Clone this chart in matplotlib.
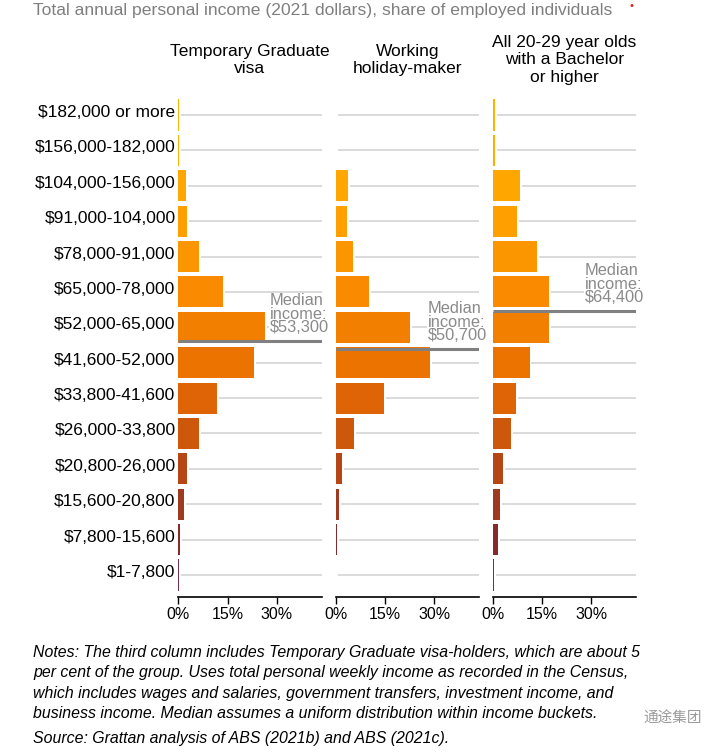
import matplotlib
matplotlib.use("Agg")
import matplotlib.pyplot as plt
import matplotlib.transforms as mtransforms

plt.rcParams['font.family'] = ['Liberation Sans', 'DejaVu Sans']

# Income buckets, top to bottom as in the chart
buckets = ['$182,000 or more', '$156,000-182,000', '$104,000-156,000', '$91,000-104,000',
           '$78,000-91,000', '$65,000-78,000', '$52,000-65,000', '$41,600-52,000',
           '$33,800-41,600', '$26,000-33,800', '$20,800-26,000', '$15,600-20,800',
           '$7,800-15,600', '$1-7,800']

panel_titles = ['Temporary Graduate\nvisa', 'Working\nholiday-maker',
                'All 20-29 year olds\nwith a Bachelor\nor higher']

# share of employed individuals (%), same order as buckets
temp_grad = [0.2, 0.3, 2.2, 2.6, 6.4, 13.6, 26.3, 22.9, 11.8, 6.2, 2.7, 1.6, 0.6, 0.3]
whm = [0.2, 0.2, 3.7, 3.4, 5.2, 10.1, 22.5, 28.6, 14.6, 5.7, 1.9, 0.9, 0.3, 0.0]
bachelor = [0.7, 0.8, 8.4, 7.3, 13.5, 17.1, 17.2, 11.2, 7.1, 5.7, 3.1, 2.3, 1.6, 0.5]

# median income for each group and the bucket bounds it falls in
medians = [53300, 50700, 64400]
median_labels = ['$53,300', '$50,700', '$64,400']
bucket_bounds = [(182000, None), (156000, 182000), (104000, 156000), (91000, 104000),
                 (78000, 91000), (65000, 78000), (52000, 65000), (41600, 52000),
                 (33800, 41600), (26000, 33800), (20800, 26000), (15600, 20800),
                 (7800, 15600), (1, 7800)]

row_colors = ['#FFB300', '#FFAE00', '#FFA600', '#FF9F00', '#FC9600', '#FA8B00', '#F37F00',
              '#EC7300', '#DE6405', '#CD570A', '#B64614', '#9E3A1F', '#862A2A', '#7A2C4C']

series = [temp_grad, whm, bachelor]


def median_ypos(m):
    # rows counted from bottom (0 = $1-7,800), uniform within bucket
    n = len(buckets)
    for i, (lo, hi) in enumerate(bucket_bounds):
        if hi is not None and lo <= m < hi:
            y = n - 1 - i
            return y - 0.5 + (m - lo) / (hi - lo)
    return None


fig = plt.figure(figsize=(7.24, 7.53), dpi=100)

lefts = [0.2463, 0.4637, 0.6805]
width = 0.198
bottom = 0.2072
height = 0.6636
xmax = 43.6
gap = 0.6
n = len(buckets)
ypos = [n - 1 - i for i in range(n)]

for k, vals in enumerate(series):
    ax = fig.add_axes([lefts[k], bottom, width, height])
    # light row guide lines, starting just after each bar
    for y, v in zip(ypos, vals):
        ax.plot([v + gap, xmax], [y, y], color='#d4d4d4', lw=1.2, zorder=1, solid_capstyle='butt')
    ax.barh(ypos, vals, height=0.88, color=row_colors, linewidth=0, zorder=2)

    ym = median_ypos(medians[k])
    ax.plot([0, xmax], [ym, ym], color='#808080', lw=2.2, zorder=4, solid_capstyle='butt')
    ax.text(27.9, ym + 0.17, 'Median\nincome:\n' + median_labels[k], ha='left', va='bottom',
            fontsize=11.8, color='#8a8a8a', linespacing=0.88, zorder=5,
            bbox=dict(facecolor='white', edgecolor='none', pad=0.5))

    ax.set_xlim(0, xmax)
    ax.set_ylim(-0.62, n - 0.5)
    ax.set_xticks([0, 15, 30])
    ax.set_xticklabels(['0%', '15%', '30%'], fontsize=11.5)
    ax.tick_params(axis='x', length=5, width=1, pad=2)
    for s in ['top', 'right', 'left']:
        ax.spines[s].set_visible(False)
    ax.spines['bottom'].set_linewidth(1.2)

    if k == 0:
        ax.set_yticks(ypos)
        ax.set_yticklabels(buckets, fontsize=12.5)
        ax.tick_params(axis='y', length=0, pad=2)
        off = mtransforms.ScaledTranslation(0, 4 / 100, fig.dpi_scale_trans)
        for lab in ax.get_yticklabels():
            lab.set_transform(lab.get_transform() + off)
    else:
        ax.set_yticks([])

    fig.text(lefts[k] + width / 2, 1 - 60 / 753, panel_titles[k], ha='center', va='center',
             fontsize=12.5, linespacing=1.22)

fig.text(33 / 724, 1 - 11 / 753, 'Total annual personal income (2021 dollars), share of employed individuals',
         ha='left', va='center', fontsize=12.6, color='#7f7f7f')
fig.text(631 / 724, 1 - 6 / 753, '•', ha='center', va='center', fontsize=8, color='#e02020')

notes = ('Notes: The third column includes Temporary Graduate visa-holders, which are about 5\n'
         'per cent of the group. Uses total personal weekly income as recorded in the Census,\n'
         'which includes wages and salaries, government transfers, investment income, and\n'
         'business income. Median assumes a uniform distribution within income buckets.')
fig.text(33 / 724, 1 - 683 / 753, notes, ha='left', va='center', fontsize=11.4, style='italic',
         linespacing=1.47)
fig.text(33 / 724, 1 - 738 / 753, 'Source: Grattan analysis of ABS (2021b) and ABS (2021c).',
         ha='left', va='center', fontsize=11.4, style='italic')
fig.text(643 / 724, 1 - 718 / 753, '通途集团', ha='left', va='center', fontsize=10.5,
         color='#9a9a9a', family=['Noto Sans CJK SC', 'DejaVu Sans'])

fig.savefig('out.png', dpi=100)
